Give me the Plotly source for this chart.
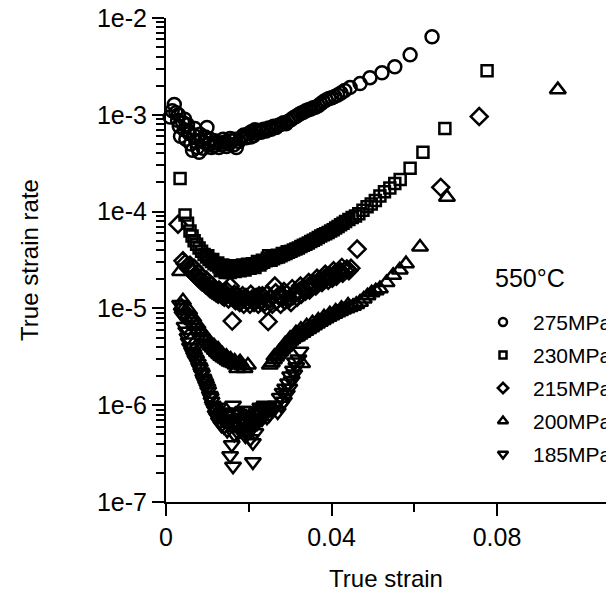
import plotly.graph_objects as go

# ---------------- data ----------------
strain_275 = [0.0010, 0.0020, 0.0024, 0.0028, 0.0032, 0.0035, 0.0040, 0.0044, 0.0048, 0.0052,
              0.0056, 0.0060, 0.0064, 0.0068, 0.0072, 0.0076, 0.0080, 0.0085, 0.0090, 0.0095,
              0.0099, 0.0104, 0.0110, 0.0116, 0.0122, 0.0128, 0.0134, 0.0140, 0.0146, 0.0152,
              0.0158, 0.0164, 0.0170, 0.0176, 0.0182, 0.0188, 0.0194, 0.0200, 0.0206, 0.0212,
              0.0218, 0.0224, 0.0230, 0.0236, 0.0242, 0.0248, 0.0254, 0.0260, 0.0266, 0.0272,
              0.0278, 0.0284, 0.0290, 0.0296, 0.0302, 0.0308, 0.0314, 0.0320, 0.0326, 0.0332,
              0.0338, 0.0344, 0.0350, 0.0356, 0.0362, 0.0368, 0.0374, 0.0380, 0.0387, 0.0394,
              0.0401, 0.0408, 0.0415, 0.0423, 0.0432, 0.0445, 0.0469, 0.0493, 0.0522, 0.0553,
              0.0590, 0.0643,
              0.0015, 0.0030, 0.0045, 0.0055, 0.0070, 0.0082, 0.0092, 0.0107, 0.0118, 0.0138,
              0.0155, 0.0168, 0.0185, 0.0205, 0.0215]
rate_275 = [9.5e-4, 1.28e-3, 1.05e-3, 8.8e-4, 7.6e-4, 6.0e-4, 8.4e-4, 7.0e-4, 5.6e-4, 7.9e-4,
            6.4e-4, 5.0e-4, 4.3e-4, 6.1e-4, 5.3e-4, 4.6e-4, 4.1e-4, 5.5e-4, 4.5e-4, 5.9e-4,
            7.4e-4, 5.0e-4, 4.6e-4, 4.8e-4, 5.1e-4, 4.6e-4, 4.9e-4, 5.2e-4, 4.7e-4, 5.0e-4,
            5.4e-4, 4.9e-4, 4.6e-4, 5.3e-4, 5.7e-4, 6.2e-4, 5.8e-4, 6.4e-4, 6.7e-4, 6.1e-4,
            6.5e-4, 6.9e-4, 6.6e-4, 7.1e-4, 6.8e-4, 7.3e-4, 7.1e-4, 7.6e-4, 7.4e-4, 7.8e-4,
            8.0e-4, 8.3e-4, 8.1e-4, 8.6e-4, 8.9e-4, 9.3e-4, 9.6e-4, 1.0e-3, 1.04e-3, 1.06e-3,
            1.1e-3, 1.13e-3, 1.15e-3, 1.18e-3, 1.2e-3, 1.24e-3, 1.3e-3, 1.36e-3, 1.42e-3, 1.47e-3,
            1.5e-3, 1.55e-3, 1.6e-3, 1.68e-3, 1.78e-3, 1.92e-3, 2.1e-3, 2.42e-3, 2.72e-3, 3.13e-3,
            4.16e-3, 6.4e-3,
            1.1e-3, 1.0e-3, 9.0e-4, 6.8e-4, 7.2e-4, 6.3e-4, 5.2e-4, 5.6e-4, 5.4e-4, 5.6e-4,
            5.7e-4, 5.6e-4, 6.0e-4, 5.9e-4, 7.0e-4]

strain_230 = [0.0034, 0.0046, 0.0052, 0.0058, 0.0063, 0.0068, 0.0074, 0.0080, 0.0086, 0.0092,
              0.0098, 0.0104, 0.0110, 0.0116, 0.0122, 0.0128, 0.0134, 0.0140, 0.0146, 0.0152,
              0.0158, 0.0164, 0.0170, 0.0176, 0.0182, 0.0188, 0.0194, 0.0200, 0.0206, 0.0212,
              0.0218, 0.0224, 0.0230, 0.0236, 0.0242, 0.0248, 0.0254, 0.0260, 0.0266, 0.0272,
              0.0278, 0.0284, 0.0290, 0.0296, 0.0302, 0.0308, 0.0314, 0.0320, 0.0326, 0.0332,
              0.0338, 0.0344, 0.0350, 0.0356, 0.0362, 0.0368, 0.0374, 0.0380, 0.0386, 0.0392,
              0.0398, 0.0404, 0.0410, 0.0416, 0.0422, 0.0428, 0.0434, 0.0442, 0.0450, 0.0458,
              0.0466, 0.0476, 0.0486, 0.0496, 0.0506, 0.0517, 0.0528, 0.0541, 0.0553, 0.0566,
              0.0590, 0.0621, 0.0674, 0.0776,
              0.0101, 0.0113, 0.0125, 0.0137, 0.0149, 0.0161, 0.0173, 0.0185, 0.0197, 0.0209,
              0.0221, 0.0233, 0.0245, 0.0257, 0.0269, 0.0281, 0.0293, 0.0131, 0.0143, 0.0155,
              0.0167, 0.0179, 0.0191, 0.0203, 0.0215, 0.0227]
rate_230 = [2.2e-4, 9.2e-5, 7.6e-5, 6.3e-5, 5.6e-5, 5.0e-5, 4.6e-5, 4.2e-5, 3.9e-5, 3.6e-5,
            3.4e-5, 3.2e-5, 3.05e-5, 2.9e-5, 2.8e-5, 2.7e-5, 2.6e-5, 2.55e-5, 2.5e-5, 2.6e-5,
            2.45e-5, 2.55e-5, 2.5e-5, 2.6e-5, 2.55e-5, 2.65e-5, 2.6e-5, 2.7e-5, 2.75e-5, 2.7e-5,
            2.85e-5, 2.9e-5, 2.95e-5, 3.0e-5, 3.1e-5, 3.5e-5, 3.15e-5, 3.25e-5, 3.35e-5, 3.4e-5,
            3.5e-5, 3.6e-5, 3.7e-5, 3.8e-5, 3.9e-5, 4.0e-5, 4.1e-5, 4.2e-5, 4.35e-5, 4.5e-5,
            4.6e-5, 4.75e-5, 4.9e-5, 5.05e-5, 5.2e-5, 5.4e-5, 5.6e-5, 5.75e-5, 5.9e-5, 6.1e-5,
            6.3e-5, 6.5e-5, 6.75e-5, 7.0e-5, 7.3e-5, 7.6e-5, 7.9e-5, 8.3e-5, 8.7e-5, 9.0e-5,
            9.5e-5, 1.03e-4, 1.12e-4, 1.2e-4, 1.3e-4, 1.45e-4, 1.6e-4, 1.75e-4, 1.95e-4, 2.15e-4,
            2.8e-4, 4.1e-4, 7.2e-4, 2.85e-3,
            3.5e-5, 3.2e-5, 2.95e-5, 2.8e-5, 2.7e-5, 2.75e-5, 2.7e-5, 2.8e-5, 2.85e-5, 2.9e-5,
            3.05e-5, 3.15e-5, 3.3e-5, 3.4e-5, 3.55e-5, 3.7e-5, 3.85e-5, 2.45e-5, 2.35e-5, 2.35e-5,
            2.4e-5, 2.45e-5, 2.5e-5, 2.6e-5, 2.65e-5, 2.8e-5]

strain_215 = [0.0029, 0.0041, 0.0046, 0.0051, 0.0056, 0.0061, 0.0066, 0.0071, 0.0076, 0.0081,
              0.0086, 0.0091, 0.0096, 0.0101, 0.0106, 0.0111, 0.0116, 0.0121, 0.0126, 0.0131,
              0.0136, 0.0141, 0.0146, 0.0151, 0.0155, 0.0160, 0.0163, 0.0168, 0.0173, 0.0178,
              0.0183, 0.0188, 0.0193, 0.0198, 0.0203, 0.0208, 0.0213, 0.0218, 0.0223, 0.0228,
              0.0233, 0.0238, 0.0243, 0.0247, 0.0252, 0.0257, 0.0263, 0.0267, 0.0272, 0.0277,
              0.0282, 0.0287, 0.0292, 0.0297, 0.0302, 0.0307, 0.0312, 0.0317, 0.0322, 0.0327,
              0.0332, 0.0337, 0.0342, 0.0347, 0.0352, 0.0357, 0.0362, 0.0367, 0.0372, 0.0377,
              0.0382, 0.0387, 0.0392, 0.0397, 0.0402, 0.0407, 0.0412, 0.0417, 0.0422, 0.0427,
              0.0432, 0.0437, 0.0442, 0.0447, 0.0462, 0.0664, 0.0757,
              0.0058, 0.0068, 0.0078, 0.0088, 0.0098, 0.0108, 0.0118, 0.0128, 0.0138, 0.0148,
              0.0165, 0.0185, 0.0205, 0.0225, 0.0245, 0.0265, 0.0285, 0.0305, 0.0325, 0.0345,
              0.0365, 0.0385, 0.0405, 0.0425]
rate_215 = [7.4e-5, 3.1e-5, 2.9e-5, 2.7e-5, 2.55e-5, 2.45e-5, 2.35e-5, 2.2e-5, 2.1e-5, 2.0e-5,
            1.9e-5, 1.85e-5, 1.75e-5, 1.7e-5, 1.6e-5, 1.55e-5, 1.5e-5, 1.45e-5, 1.4e-5, 1.5e-5,
            1.35e-5, 1.3e-5, 1.4e-5, 1.25e-5, 1.7e-5, 7.4e-6, 1.3e-5, 1.2e-5, 1.35e-5, 1.15e-5,
            1.25e-5, 1.1e-5, 1.3e-5, 1.2e-5, 1.1e-5, 1.25e-5, 1.15e-5, 1.3e-5, 1.1e-5, 1.2e-5,
            1.35e-5, 1.15e-5, 1.05e-5, 7.3e-6, 1.25e-5, 1.1e-5, 1.7e-5, 1.2e-5, 1.35e-5, 1.1e-5,
            1.3e-5, 1.2e-5, 1.4e-5, 1.25e-5, 1.15e-5, 1.35e-5, 1.45e-5, 1.3e-5, 1.5e-5, 1.4e-5,
            1.55e-5, 1.5e-5, 1.65e-5, 1.55e-5, 1.7e-5, 1.8e-5, 1.7e-5, 1.85e-5, 1.95e-5, 1.85e-5,
            2.0e-5, 2.1e-5, 1.95e-5, 2.15e-5, 2.05e-5, 2.25e-5, 2.15e-5, 2.3e-5, 2.4e-5, 2.3e-5,
            2.45e-5, 2.55e-5, 2.45e-5, 2.6e-5, 4.1e-5, 1.78e-4, 9.6e-4,
            2.8e-5, 2.6e-5, 2.3e-5, 2.1e-5, 1.95e-5, 1.75e-5, 1.6e-5, 1.55e-5, 1.45e-5, 1.5e-5,
            1.4e-5, 1.35e-5, 1.4e-5, 1.35e-5, 1.4e-5, 1.45e-5, 1.5e-5, 1.6e-5, 1.7e-5, 1.85e-5,
            2.05e-5, 2.25e-5, 2.45e-5, 2.65e-5]

strain_200 = [0.0034, 0.0038, 0.0043, 0.0048, 0.0053, 0.0058, 0.0063, 0.0068, 0.0073, 0.0078,
              0.0083, 0.0088, 0.0093, 0.0098, 0.0103, 0.0108, 0.0113, 0.0118, 0.0123, 0.0128,
              0.0133, 0.0138, 0.0143, 0.0148, 0.0153, 0.0158, 0.0163, 0.0168, 0.0172, 0.0179,
              0.0185, 0.0198, 0.0251, 0.0256, 0.0261, 0.0266, 0.0271, 0.0276, 0.0281, 0.0286,
              0.0291, 0.0296, 0.0301, 0.0306, 0.0312, 0.0317, 0.0329, 0.0323, 0.0330, 0.0337,
              0.0344, 0.0351, 0.0358, 0.0365, 0.0372, 0.0379, 0.0386, 0.0393, 0.0400, 0.0407,
              0.0414, 0.0421, 0.0428, 0.0436, 0.0444, 0.0452, 0.0460, 0.0469, 0.0478, 0.0487,
              0.0497, 0.0507, 0.0517, 0.0533, 0.0549, 0.0565, 0.0580, 0.0614, 0.0679, 0.0947,
              0.0041, 0.0056, 0.0066, 0.0076, 0.0086, 0.0096, 0.0106, 0.0116, 0.0126, 0.0136,
              0.0146, 0.0156, 0.0166, 0.0176, 0.0190, 0.0262, 0.0274, 0.0288, 0.0300, 0.0314,
              0.0326, 0.0340, 0.0354, 0.0368, 0.0382, 0.0396, 0.0410, 0.0424, 0.0440]
rate_200 = [2.4e-5, 1.05e-5, 1.0e-5, 9.4e-6, 8.7e-6, 8.1e-6, 7.5e-6, 7.0e-6, 6.5e-6, 6.0e-6,
            5.6e-6, 5.2e-6, 4.9e-6, 4.6e-6, 4.3e-6, 4.1e-6, 3.9e-6, 3.7e-6, 3.5e-6, 3.35e-6,
            3.2e-6, 3.1e-6, 3.0e-6, 2.9e-6, 2.8e-6, 2.75e-6, 2.7e-6, 2.6e-6, 2.4e-6, 2.8e-6,
            2.55e-6, 2.6e-6, 2.6e-6, 2.75e-6, 2.95e-6, 3.15e-6, 3.35e-6, 3.55e-6, 3.75e-6, 3.95e-6,
            4.15e-6, 4.4e-6, 4.6e-6, 4.8e-6, 5.0e-6, 5.1e-6, 2.7e-6, 5.3e-6, 5.55e-6, 5.8e-6,
            6.05e-6, 6.3e-6, 6.6e-6, 6.9e-6, 7.2e-6, 7.5e-6, 7.8e-6, 8.1e-6, 8.4e-6, 8.7e-6,
            9.0e-6, 9.3e-6, 9.6e-6, 9.9e-6, 1.02e-5, 1.05e-5, 1.1e-5, 1.16e-5, 1.25e-5, 1.35e-5,
            1.45e-5, 1.52e-5, 1.6e-5, 1.85e-5, 2.2e-5, 2.5e-5, 2.9e-5, 4.3e-5, 1.41e-4, 1.82e-3,
            1.2e-5, 9.5e-6, 8.0e-6, 6.8e-6, 5.8e-6, 5.0e-6, 4.5e-6, 4.1e-6, 3.8e-6, 3.4e-6,
            3.2e-6, 3.0e-6, 2.85e-6, 2.7e-6, 2.4e-6, 3.2e-6, 3.6e-6, 4.3e-6, 4.9e-6, 5.6e-6,
            6.1e-6, 6.6e-6, 7.1e-6, 7.6e-6, 8.2e-6, 8.8e-6, 9.4e-6, 1.0e-5, 1.08e-5]

strain_185 = [0.0034, 0.0045, 0.0052, 0.0058, 0.0063, 0.0068, 0.0073, 0.0077, 0.0082, 0.0087,
              0.0092, 0.0097, 0.0102, 0.0106, 0.0110, 0.0115, 0.0120, 0.0124, 0.0128, 0.0132,
              0.0136, 0.0140, 0.0144, 0.0148, 0.0152, 0.0155, 0.0159, 0.0162, 0.0162, 0.0165,
              0.0168, 0.0172, 0.0176, 0.0180, 0.0184, 0.0188, 0.0192, 0.0196, 0.0200, 0.0204,
              0.0210, 0.0210, 0.0214, 0.0218, 0.0222, 0.0226, 0.0230, 0.0235, 0.0240, 0.0250,
              0.0260, 0.0270, 0.0278, 0.0285, 0.0292, 0.0298, 0.0304, 0.0310, 0.0315, 0.0320,
              0.0325,
              0.0040, 0.0049, 0.0055, 0.0061, 0.0066, 0.0071, 0.0080, 0.0085, 0.0090, 0.0095,
              0.0100, 0.0108, 0.0113, 0.0118, 0.0126, 0.0134, 0.0138, 0.0146, 0.0150, 0.0157,
              0.0163, 0.0170, 0.0174, 0.0178, 0.0186, 0.0190, 0.0194, 0.0198, 0.0202, 0.0206,
              0.0212, 0.0216, 0.0220, 0.0224, 0.0228, 0.0232, 0.0238, 0.0244, 0.0248, 0.0255,
              0.0265, 0.0275, 0.0282, 0.0288, 0.0295, 0.0300, 0.0307, 0.0312]
rate_185 = [1.1e-5, 6.5e-6, 5.0e-6, 4.0e-6, 3.6e-6, 3.2e-6, 2.9e-6, 2.7e-6, 2.4e-6, 2.1e-6,
            1.8e-6, 1.6e-6, 1.4e-6, 1.26e-6, 1.1e-6, 9.5e-7, 8.0e-7, 7.5e-7, 6.8e-7, 8.0e-7,
            7.2e-7, 6.0e-7, 7.8e-7, 5.5e-7, 6.5e-7, 3.0e-7, 3.9e-7, 2.34e-7, 1.0e-6, 5.0e-7,
            7.0e-7, 6.0e-7, 8.2e-7, 5.5e-7, 7.5e-7, 6.5e-7, 4.8e-7, 7.8e-7, 6.0e-7, 4.5e-7,
            4.1e-7, 2.6e-7, 7.0e-7, 8.0e-7, 7.5e-7, 8.5e-7, 8.0e-7, 9.0e-7, 8.5e-7, 8.0e-7,
            9.0e-7, 8.5e-7, 1.0e-6, 1.1e-6, 1.3e-6, 1.5e-6, 1.8e-6, 2.1e-6, 2.5e-6, 3.0e-6,
            3.6e-6,
            8.5e-6, 5.8e-6, 4.5e-6, 3.9e-6, 3.4e-6, 3.0e-6, 2.5e-6, 2.2e-6, 1.9e-6, 1.7e-6,
            1.5e-6, 1.2e-6, 1.0e-6, 9.0e-7, 9.5e-7, 6.2e-7, 8.5e-7, 6.8e-7, 8.2e-7, 7.2e-7,
            6.2e-7, 8.5e-7, 5.2e-7, 7.0e-7, 8.8e-7, 6.0e-7, 5.4e-7, 8.8e-7, 7.0e-7, 5.6e-7,
            6.2e-7, 5.2e-7, 6.5e-7, 7.0e-7, 9.5e-7, 7.2e-7, 1.0e-6, 7.5e-7, 9.5e-7, 9.0e-7,
            1.0e-6, 1.2e-6, 1.35e-6, 1.5e-6, 1.7e-6, 2.0e-6, 2.3e-6, 2.8e-6]

series_names = ["275MPa", "230MPa", "215MPa", "200MPa", "185MPa"]
series_strain = [strain_275, strain_230, strain_215, strain_200, strain_185]
series_rate = [rate_275, rate_230, rate_215, rate_200, rate_185]

x_tick_vals = [0, 0.04, 0.08]
x_tick_text = ["0", "0.04", "0.08"]
x_minor_vals = [0.02, 0.06]
y_tick_vals = [1e-7, 1e-6, 1e-5, 1e-4, 1e-3, 1e-2]
y_tick_text = ["1e-7", "1e-6", "1e-5", "1e-4", "1e-3", "1e-2"]
y_minor_vals = [m * 10.0 ** e for e in range(-7, -2) for m in range(2, 10)]

legend_title = "550°C"
unit_label = "1/h"
x_title = "True strain"
y_title = "True strain rate"

# ---------------- styles ----------------
FONT = "Liberation Sans, Arial, sans-serif"
symbols = ["circle-open", "square-open", "diamond-open", "triangle-up-open", "triangle-down-open"]
sizes = [13, 11, 13, 14, 14]
legend_sizes = [8, 7, 8, 9, 9]
MLW = 2.5

W, H = 606, 601
L, R, T, B = 166, 0, 18, 99
X_MAX = (W - L - R) / 4137.5

fig = go.Figure()
for name, sym, sz, xs, ys in zip(series_names, symbols, sizes, series_strain, series_rate):
    fig.add_trace(go.Scatter(
        x=xs, y=ys, mode="markers", name=name, showlegend=False, cliponaxis=False,
        marker=dict(symbol=sym, size=sz, color="black", line=dict(width=MLW, color="black")),
        hoverinfo="skip"))

# custom legend drawn on a pixel-based helper axis pair
leg_x_sym, leg_x_text, leg_y0, leg_dy = 503, 531, 322, 33
leg_ys = [leg_y0 + i * leg_dy for i in range(len(series_names))]
for sym, lsz, ly in zip(symbols, legend_sizes, leg_ys):
    fig.add_trace(go.Scatter(
        x=[leg_x_sym], y=[ly], xaxis="x2", yaxis="y2", mode="markers", showlegend=False,
        cliponaxis=False, hoverinfo="skip",
        marker=dict(symbol=sym, size=lsz, color="black", line=dict(width=MLW, color="black"))))

annotations = [dict(x=leg_x_text, y=ly, xref="x2", yref="y2", text=n, showarrow=False,
                    xanchor="left", yanchor="middle", font=dict(family=FONT, size=21, color="black"))
               for n, ly in zip(series_names, leg_ys)]
annotations.append(dict(x=493, y=278, xref="x2", yref="y2", text=legend_title, showarrow=False,
                        xanchor="left", yanchor="middle", font=dict(family=FONT, size=25, color="black")))
annotations.append(dict(x=147, y=55, xref="x2", yref="y2", text=unit_label, showarrow=False,
                        xanchor="right", yanchor="middle", font=dict(family=FONT, size=25, color="black")))

axis_common = dict(showline=True, linewidth=2, linecolor="black", ticks="outside", ticklen=12,
                   tickwidth=2, tickcolor="black", showgrid=False, zeroline=False,
                   tickfont=dict(family=FONT, size=25, color="black"))

fig.update_layout(
    width=W, height=H, margin=dict(l=L, r=R, t=T, b=B, pad=0),
    paper_bgcolor="white", plot_bgcolor="white",
    xaxis=dict(range=[0, X_MAX], tickmode="array", tickvals=x_tick_vals, ticktext=x_tick_text,
               minor=dict(tickmode="array", tickvals=x_minor_vals, ticks="outside", ticklen=8,
                          tickwidth=2, tickcolor="black", showgrid=False),
               title=dict(text=x_title, font=dict(family=FONT, size=24, color="black"), standoff=20),
               **axis_common),
    yaxis=dict(type="log", range=[-7, -2], tickmode="array", tickvals=y_tick_vals, ticktext=y_tick_text,
               minor=dict(tickmode="array", tickvals=y_minor_vals, ticks="outside", ticklen=8,
                          tickwidth=2, tickcolor="black", showgrid=False),
               title=dict(text=y_title, font=dict(family=FONT, size=24, color="black"), standoff=52),
               **axis_common),
    xaxis2=dict(range=[L, W - R], overlaying="x", visible=False, fixedrange=True),
    yaxis2=dict(range=[H - B, T], overlaying="y", visible=False, fixedrange=True),
    annotations=annotations,
    showlegend=False,
)

fig.write_html("out.html")
